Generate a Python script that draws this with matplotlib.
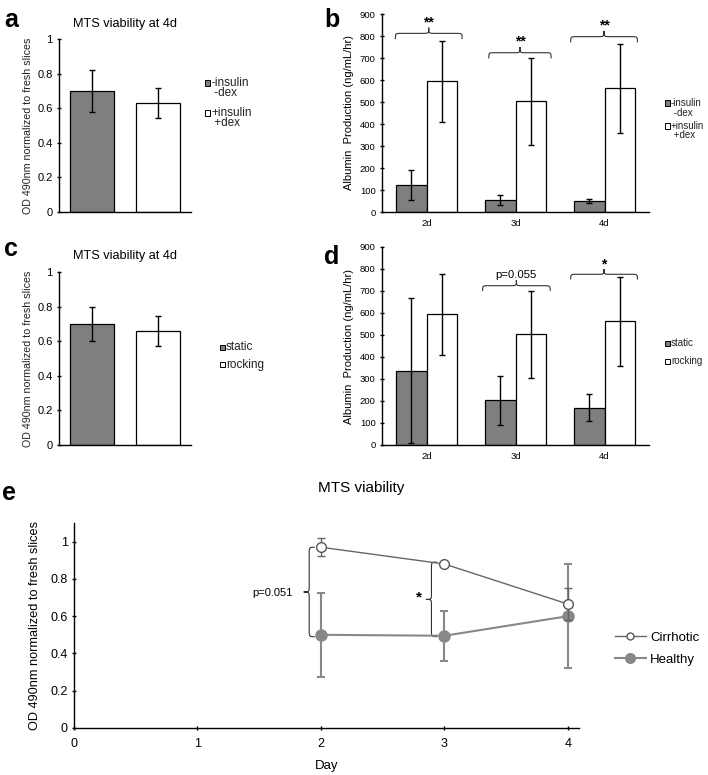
import matplotlib
matplotlib.use("Agg")
import matplotlib.pyplot as plt
import numpy as np
from matplotlib.path import Path
from matplotlib.patches import PathPatch, Rectangle
from matplotlib.lines import Line2D

plt.rcParams["font.family"] = ["Liberation Sans", "DejaVu Sans"]

# ---- data ----
mts_groups_a = ["-insulin\n -dex", "+insulin\n +dex"]
mts_a = [0.70, 0.63]
mts_a_err = [0.12, 0.085]

mts_groups_c = ["static", "rocking"]
mts_c = [0.70, 0.66]
mts_c_err = [0.10, 0.088]

days = ["2d", "3d", "4d"]
alb_noins = [122, 55, 50]
alb_noins_err = [68, 24, 10]
alb_ins = [595, 503, 562]
alb_ins_err = [184, 197, 203]

alb_static = [338, 203, 170]
alb_static_err = [329, 112, 61]
alb_rocking = [595, 503, 562]
alb_rocking_err = [184, 197, 203]

sig_b = ["**", "**", "**"]
sig_d = ["", "p=0.055", "*"]

day_e = [2, 3, 4]
cirrhotic = [0.97, 0.88, 0.665]
cirrhotic_err = [0.048, 0.01, 0.085]
healthy = [0.50, 0.495, 0.60]
healthy_err = [0.225, 0.135, 0.28]

DARK = "#7f7f7f"
W, H = 708, 775

BRACE_CODES = [Path.MOVETO, Path.CURVE4, Path.CURVE4, Path.CURVE4,
               Path.LINETO,
               Path.CURVE4, Path.CURVE4, Path.CURVE4,
               Path.CURVE4, Path.CURVE4, Path.CURVE4,
               Path.LINETO,
               Path.CURVE4, Path.CURVE4, Path.CURVE4]


def hbrace(ax, x0, x1, y, h, lw=0.8, color="#333333"):
    xm = (x0 + x1) / 2
    r = (x1 - x0) * 0.09
    verts = [(x0, y - h), (x0, y), (x0, y), (x0 + r, y),
             (xm - r, y),
             (xm, y), (xm, y), (xm, y + h),
             (xm, y), (xm, y), (xm + r, y),
             (x1 - r, y),
             (x1, y), (x1, y), (x1, y - h)]
    ax.add_patch(PathPatch(Path(verts, BRACE_CODES), fill=False, lw=lw, color=color, clip_on=False))


def vbrace(ax, x, y0, y1, w, lw=0.8, color="#333333"):
    ym = (y0 + y1) / 2
    r = (y1 - y0) * 0.08
    verts = [(x + w, y0), (x, y0), (x, y0), (x, y0 + r),
             (x, ym - r),
             (x, ym), (x, ym), (x - w, ym),
             (x, ym), (x, ym), (x, ym + r),
             (x, y1 - r),
             (x, y1), (x, y1), (x + w, y1)]
    ax.add_patch(PathPatch(Path(verts, BRACE_CODES), fill=False, lw=lw, color=color, clip_on=False))


def square_legend(colors, labels, x, ys, fs, line_gap, size=5):
    # small square key next to the first line of each label (pixel coords, top-down)
    for c, lab, y in zip(colors, labels, ys):
        fig.add_artist(Rectangle((x / W, 1 - (y + size / 2) / H), size / W, size / H,
                                 facecolor=c, edgecolor="black", lw=0.7,
                                 transform=fig.transFigure))
        for k, line in enumerate(lab.split("\n")):
            fig.text((x + size + 1) / W, 1 - (y + k * line_gap) / H, line,
                     fontsize=fs, va="center", ha="left", color="#222222")


def style_axes(ax, fs):
    for s in ("top", "right"):
        ax.spines[s].set_visible(False)
    for s in ("left", "bottom"):
        ax.spines[s].set_linewidth(1.0)
    ax.tick_params(labelsize=fs, width=1.0, length=3, direction="inout", pad=3)


def mts_panel(ax, vals, errs):
    x = np.arange(len(vals))
    ax.bar(x, vals, width=0.68, color=[DARK, "white"], edgecolor="black", lw=0.9,
           yerr=errs, capsize=2.5, error_kw=dict(lw=1.0, capthick=1.0, ecolor="black"))
    ax.set_xlim(-0.5, 1.5)
    ax.set_ylim(0, 1)
    ax.set_yticks([0, 0.2, 0.4, 0.6, 0.8, 1])
    ax.set_yticklabels(["0", "0.2", "0.4", "0.6", "0.8", "1"])
    ax.set_xticks([])
    style_axes(ax, 8)
    ax.set_ylabel("OD 490nm normalized to fresh slices", fontsize=7.7, color="#222222", labelpad=3)
    ax.set_title("MTS viability at 4d", fontsize=9.2, pad=9)


def albumin_panel(ax, v1, e1, v2, e2):
    x = np.arange(len(days))
    w = 0.34
    ek = dict(lw=1.0, capthick=1.0, ecolor="black")
    ax.bar(x - w / 2, v1, width=w, color=DARK, edgecolor="black", lw=0.9,
           yerr=e1, capsize=2.5, error_kw=ek)
    ax.bar(x + w / 2, v2, width=w, color="white", edgecolor="black", lw=0.9,
           yerr=e2, capsize=2.5, error_kw=ek)
    ax.set_xlim(-0.5, 2.5)
    ax.set_ylim(0, 900)
    ax.set_yticks(range(0, 901, 100))
    ax.set_xticks(x)
    ax.set_xticklabels(days)
    style_axes(ax, 6.8)
    ax.tick_params(axis="x", length=0, pad=5)
    ax.set_ylabel("Albumin  Production (ng/mL/hr)", fontsize=8, labelpad=4)


fig = plt.figure(figsize=(7.08, 7.75), dpi=100)

# ---- a ----
ax_a = fig.add_axes([59 / W, 1 - 212 / H, 132 / W, 173 / H])
mts_panel(ax_a, mts_a, mts_a_err)
square_legend([DARK, "white"], mts_groups_a, 205, [83, 113], 8.5, 10.5)

# ---- c ----
ax_c = fig.add_axes([59 / W, 1 - 445 / H, 132 / W, 173 / H])
mts_panel(ax_c, mts_c, mts_c_err)
square_legend([DARK, "white"], mts_groups_c, 220, [347, 365], 8.5, 10)

# ---- b ----
ax_b = fig.add_axes([382 / W, 1 - 212 / H, 267 / W, 198 / H])
albumin_panel(ax_b, alb_noins, alb_noins_err, alb_ins, alb_ins_err)
square_legend([DARK, "white"], ["-insulin\n -dex", "+insulin\n +dex"], 665, [103, 126], 7, 9.5)
brace_b = [(-0.35, 0.40, 812), (-0.30, 0.40, 724), (-0.38, 0.37, 797)]
for (x0, x1, y), s, xc in zip(brace_b, sig_b, range(3)):
    hbrace(ax_b, xc + x0, xc + x1, y, 26)
    ax_b.text(xc + (x0 + x1) / 2, y + 18, s, ha="center", va="bottom",
              fontsize=10, fontweight="bold")

# ---- d ----
ax_d = fig.add_axes([382 / W, 1 - 445 / H, 267 / W, 198 / H])
albumin_panel(ax_d, alb_static, alb_static_err, alb_rocking, alb_rocking_err)
square_legend([DARK, "white"], ["static", "rocking"], 665, [343, 361], 7, 9.5)
brace_d = [None, (-0.37, 0.39, 724), (-0.38, 0.37, 776)]
for b, s, xc in zip(brace_d, sig_d, range(3)):
    if b is None:
        continue
    x0, x1, y = b
    hbrace(ax_d, xc + x0, xc + x1, y, 24)
    if s == "*":
        ax_d.text(xc + (x0 + x1) / 2, y + 14, s, ha="center", va="bottom",
                  fontsize=10, fontweight="bold")
    else:
        ax_d.text(xc + (x0 + x1) / 2, y + 26, s, ha="center", va="bottom", fontsize=8.2)

# ---- e ----
ax_e = fig.add_axes([74 / W, 1 - 728 / H, 505 / W, 205 / H])
ax_e.errorbar(day_e, healthy, yerr=healthy_err, color="#888888", lw=1.5,
              marker="o", ms=8, mfc="#888888", mec="#888888",
              capsize=3, elinewidth=1.5, capthick=1.5, label="Healthy", zorder=2)
ax_e.errorbar(day_e, cirrhotic, yerr=cirrhotic_err, color="#666666", lw=1.0,
              marker="o", ms=7, mfc="white", mec="#555555", mew=1.0,
              capsize=3, elinewidth=1.0, capthick=1.0, label="Cirrhotic", zorder=3)
ax_e.set_xlim(0, 4.09)
ax_e.set_ylim(0, 1.1)
ax_e.set_xticks([0, 1, 2, 3, 4])
ax_e.set_yticks([0, 0.2, 0.4, 0.6, 0.8, 1])
ax_e.set_yticklabels(["0", "0.2", "0.4", "0.6", "0.8", "1"])
style_axes(ax_e, 9)
ax_e.tick_params(axis="x", pad=6)
ax_e.set_ylabel("OD 490nm normalized to fresh slices", fontsize=9.2, labelpad=7)
ax_e.set_xlabel("Day", fontsize=9.5, labelpad=7)
fig.text(361 / W, 1 - 488 / H, "MTS viability", fontsize=11, ha="center", va="center")
vbrace(ax_e, 1.905, 0.49, 0.97, 0.045)
ax_e.text(1.77, 0.727, "p=0.051", ha="right", va="center", fontsize=8)
vbrace(ax_e, 2.895, 0.49, 0.89, 0.045)
ax_e.text(2.79, 0.70, "*", ha="center", va="center", fontsize=11, fontweight="bold")
h_c = Line2D([], [], color="#666666", lw=1.0, marker="o", ms=5, mfc="white", mec="#555555")
h_h = Line2D([], [], color="#888888", lw=1.5, marker="o", ms=7, mfc="#888888", mec="#888888")
ax_e.legend([h_c, h_h], ["Cirrhotic", "Healthy"], loc="upper left",
            bbox_to_anchor=(0.868, 0.185), bbox_transform=fig.transFigure,
            frameon=False, fontsize=9.5, handlelength=2.4, handletextpad=0.3,
            labelspacing=0.75, borderpad=0, borderaxespad=0)

# ---- panel letters ----
for letter, x, y in [("a", 0.006, 0.965), ("b", 0.458, 0.965), ("c", 0.006, 0.670),
                     ("d", 0.458, 0.659), ("e", 0.003, 0.355)]:
    fig.text(x, y, letter, fontsize=18, fontweight="bold", va="baseline")

fig.savefig("out.png", dpi=100)
